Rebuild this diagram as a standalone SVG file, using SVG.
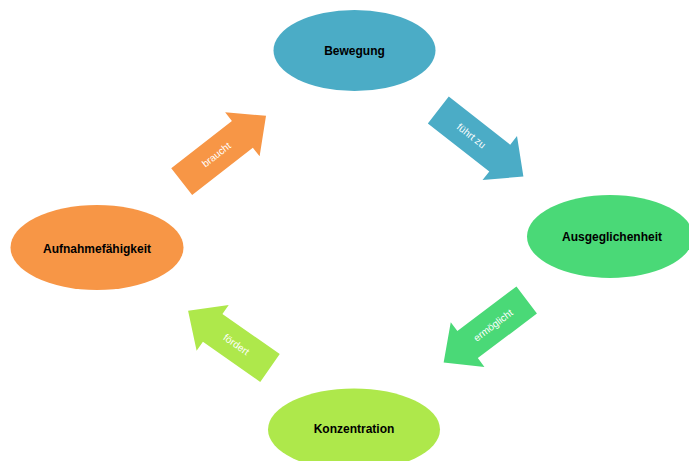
<svg xmlns="http://www.w3.org/2000/svg" width="689" height="461" viewBox="0 0 689 461">
  <style>
    .lbl { font-family: "Liberation Sans", Arial, sans-serif; font-size: 12px; font-weight: bold; fill: #000; text-anchor: middle; }
    .al { font-family: "Liberation Sans", Arial, sans-serif; font-size: 10px; fill: #fff; text-anchor: middle; }
    .teal { fill: #4BACC6; }
    .green { fill: #4AD977; }
    .orange { fill: #F79646; }
    .lime { fill: #AEE84B; }
  </style>
  <rect width="689" height="461" fill="#fff"/>
  <g id="connectors">
    <g id="arrow-fuehrt-zu" transform="translate(438.3 110) rotate(38)">
      <polygon class="teal" points="0,-17 78,-17 78,-28 108,0 78,28 78,17 0,17"/>
      <text class="al" x="42" y="0" dy="0.35em">führt zu</text>
    </g>
    <g id="arrow-ermoeglicht" transform="translate(526.7 300) rotate(143)">
      <polygon class="green" points="0,-17 74,-17 74,-28 104,0 74,28 74,17 0,17"/>
      <text class="al" x="42" y="0" dy="0.35em" transform="rotate(180 42 0)">ermöglicht</text>
    </g>
    <g id="arrow-foerdert" transform="translate(270 368) rotate(215)">
      <polygon class="lime" points="0,-17 70,-17 70,-28 100,0 70,28 70,17 0,17"/>
      <text class="al" x="41" y="0" dy="0.35em" transform="rotate(180 41 0)">fördert</text>
    </g>
    <g id="arrow-braucht" transform="translate(181.7 181.7) rotate(-38)">
      <polygon class="orange" points="0,-17 77,-17 77,-28 107,0 77,28 77,17 0,17"/>
      <text class="al" x="44" y="0" dy="0.35em">braucht</text>
    </g>
  </g>
  <g id="node-bewegung">
    <ellipse class="teal" cx="354.5" cy="50.5" rx="81" ry="40.5"/>
    <text class="lbl" x="354.5" y="55">Bewegung</text>
  </g>
  <g id="node-ausgeglichenheit">
    <ellipse class="green" cx="610" cy="236.5" rx="83" ry="41.5"/>
    <text class="lbl" x="612" y="241">Ausgeglichenheit</text>
  </g>
  <g id="node-konzentration">
    <ellipse class="lime" cx="354" cy="429.5" rx="86" ry="41"/>
    <text class="lbl" x="354" y="432.5">Konzentration</text>
  </g>
  <g id="node-aufnahmefaehigkeit">
    <ellipse class="orange" cx="97" cy="247.5" rx="86.5" ry="42.5"/>
    <text class="lbl" x="97" y="252.5">Aufnahmefähigkeit</text>
  </g>
</svg>
